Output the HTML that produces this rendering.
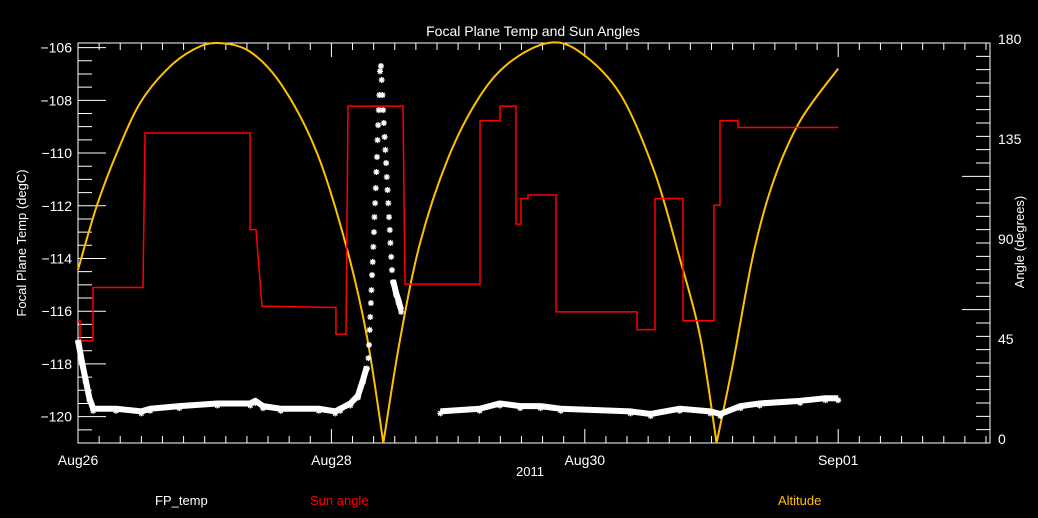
<!DOCTYPE html>
<html><head><meta charset="utf-8"><style>
body{margin:0;background:#000;}
svg{display:block;font-family:"Liberation Sans",sans-serif;}
</style></head><body>
<svg id="c" width="1038" height="518" viewBox="0 0 1038 518">
<rect width="1038" height="518" fill="#000"/>
<text x="533" y="36" fill="#fff" font-size="14" text-anchor="middle">Focal Plane Temp and Sun Angles</text>
<text transform="translate(26,243) rotate(-90)" fill="#fff" font-size="13" text-anchor="middle">Focal Plane Temp (degC)</text>
<text transform="translate(1024,242) rotate(-90)" fill="#fff" font-size="13" text-anchor="middle">Angle (degrees)</text>
<text x="530" y="476" fill="#fff" font-size="13" text-anchor="middle">2011</text>
<text x="155" y="505" fill="#fff" font-size="13">FP_temp</text>
<text x="310" y="505" fill="#ff0000" font-size="13">Sun angle</text>
<text x="778" y="505" fill="#ffc000" font-size="13">Altitude</text>
<g id="axes"></g><g id="series"></g>
</svg>
<script>
const xTickLabels=["Aug26","Aug28","Aug30","Sep01"];
const xTickDays=[0,2,4,6];
const yTicks=[-106,-108,-110,-112,-114,-116,-118,-120];
const rTicks=[0,45,90,135,180];
// Sun angle steps
const sunT=[0,0.016,0.016,0.118,0.118,0.513,0.529,1.358,1.358,1.405,1.452,2.036,2.036,2.115,2.131,2.565,2.581,3.173,3.173,3.331,3.331,3.457,3.457,3.496,3.496,3.552,3.552,3.773,3.773,4.412,4.412,4.554,4.554,4.775,4.775,5.02,5.02,5.067,5.067,5.209,5.209,6.0];
const sunA=[55,55,46,46,70,70,139.5,139.5,96,96,61.6,61,49,49,151.6,151.6,71.5,71.5,145,145,151.6,151.6,98.5,98.5,110,110,111.6,111.6,59,59,51,51,110,110,55,55,107,107,145,145,142,142];
// Altitude (zeros split arcs)
const altT=[0,0.15,0.31,0.49,0.70,0.91,1.10,1.36,1.62,1.89,2.12,2.28,2.41,2.54,2.70,2.92,3.16,3.40,3.71,3.96,4.28,4.55,4.75,4.91,5.04,5.17,5.33,5.49,5.70,6.0];
const altA=[78,107,131,153,168,177,180,176,160,130,88,48,0,46,90,128,155,171,180,176,157,122,83,48,0,36,85,118,145,168.5];
// FP temp band (null = gap)
const fpT=[0,0.03,0.06,0.09,0.12,0.3,0.5,0.57,0.8,1.1,1.36,1.4,1.46,1.6,1.9,2.03,2.07,2.15,2.21,2.25,2.28,null,2.486,2.51,2.53,2.55,null,2.86,3.17,3.33,3.49,3.65,3.81,4.36,4.52,4.75,4.99,5.07,5.23,5.38,5.7,5.9,6.0];
const fpV=[-117.1,-117.9,-118.6,-119.3,-119.7,-119.7,-119.8,-119.7,-119.6,-119.5,-119.5,-119.4,-119.6,-119.7,-119.7,-119.8,-119.7,-119.5,-119.2,-118.6,-118.1,null,-114.82,-115.3,-115.6,-115.95,null,-119.8,-119.7,-119.5,-119.6,-119.6,-119.7,-119.8,-119.9,-119.7,-119.8,-119.9,-119.6,-119.5,-119.4,-119.3,-119.3];
// FP temp sparse spike samples (stars only)
const spikeT=[2.292,2.297,2.302,2.307,2.312,2.316,2.321,2.326,2.331,2.336,2.340,2.345,2.350,2.355,2.360,2.364,2.369,2.374,2.379,2.384,2.391,2.397,2.403,2.408,2.414,2.420,2.426,2.432,2.437,2.443,2.449,2.455,2.461,2.466,2.472,2.478];
const spikeV=[-117.78,-117.28,-116.71,-116.22,-115.69,-115.2,-114.63,-114.13,-113.56,-113.0,-112.43,-111.9,-111.33,-110.72,-110.15,-109.51,-108.94,-108.37,-107.8,-106.9,-106.7,-107.23,-107.8,-108.37,-108.86,-109.39,-109.88,-110.38,-110.91,-111.4,-111.9,-112.43,-112.92,-113.41,-113.94,-114.44];
const NS="http://www.w3.org/2000/svg";
const L=78,R=990,T=43,B=443,DPX=126.7;
const X=d=>L+d*DPX;
const YL=v=>B-(v+121)*26.36;
const YR=a=>B-a/180*400;
function mk(tag,at,parent){const e=document.createElementNS(NS,tag);for(const k in at)e.setAttribute(k,at[k]);parent.appendChild(e);return e;}
const ax=document.getElementById('axes'),se=document.getElementById('series');
const frame=mk('rect',{x:L,y:T,width:R-L,height:B-T,fill:'none',stroke:'#fff','stroke-width':1},ax);


let tp='';
for(let h=0;X(h/6)<=R+0.5;h++){const x=X(h/6);const len=(h%12==0)?14:7;tp+=`M${x},${B}v${-len}M${x},${T}v${len}`;}
for(let v=-121;v<=-106;v+=0.5){const y=YL(v);if(y<T)continue;const len=(Math.abs(v%2)==0)?28:14;tp+=`M${L},${y}h${len}`;}
for(let a=0;a<=180;a+=6){const y=YR(a);const len=(a%60==0)?28:14;tp+=`M${R},${y}h${-len}`;}
const tk=mk('path',{d:tp,stroke:'#fff','stroke-width':1,fill:'none'},ax);


xTickLabels.forEach((s,i)=>{const t=mk('text',{x:X(xTickDays[i]),y:465,fill:'#fff','font-size':14,'text-anchor':'middle'},ax);t.textContent=s;

});
yTicks.forEach(v=>{const t=mk('text',{x:72,y:YL(v)+5,fill:'#fff','font-size':14,'text-anchor':'end'},ax);t.textContent='\u2212'+Math.abs(v);

});
rTicks.forEach(a=>{const t=mk('text',{x:998,y:YR(a)+1,fill:'#fff','font-size':14},ax);t.textContent=a;

});
function crPath(pts){let d=`M${pts[0][0]},${pts[0][1]}`;for(let i=0;i<pts.length-1;i++){const p0=pts[Math.max(0,i-1)],p1=pts[i],p2=pts[i+1],p3=pts[Math.min(pts.length-1,i+2)];
d+=`C${p1[0]+(p2[0]-p0[0])/6},${p1[1]+(p2[1]-p0[1])/6} ${p2[0]-(p3[0]-p1[0])/6},${p2[1]-(p3[1]-p1[1])/6} ${p2[0]},${p2[1]}`;}return d;}
let arcs=[[]];altT.forEach((t,i)=>{const p=[X(t),YR(altA[i])];arcs[arcs.length-1].push(p);if(altA[i]===0&&i>0&&i<altT.length-1)arcs.push([p]);});
let ad='';arcs.forEach(a=>{if(a.length>1)ad+=crPath(a);});
const alt=mk('path',{d:ad,fill:'none',stroke:'#ffc000','stroke-width':2},se);


const sun=mk('polyline',{points:sunT.map((t,i)=>X(t)+','+YR(sunA[i])).join(' '),fill:'none',stroke:'#ff0000','stroke-width':1.5},se);


let segs=[[]];fpT.forEach((t,i)=>{if(t===null){segs.push([]);}else segs[segs.length-1].push([X(t),YL(fpV[i])]);});
segs.forEach(sg=>{const p=mk('polyline',{points:sg.map(q=>q.join(',')).join(' '),fill:'none',stroke:'#fff','stroke-width':6,'stroke-linejoin':'round'},se);

});
function star(x,y){const s=mk('path',{d:`M${x-3},${y}h6M${x},${y-3}v6M${x-2.2},${y-2.2}l4.4,4.4M${x-2.2},${y+2.2}l4.4,-4.4`,stroke:'#fff','stroke-width':1.3},se);

}
spikeT.forEach((t,i)=>star(X(t),YL(spikeV[i])));
fpT.forEach((t,i)=>{if(t!==null)star(X(t),YL(fpV[i])+2);});
</script>
</body></html>
